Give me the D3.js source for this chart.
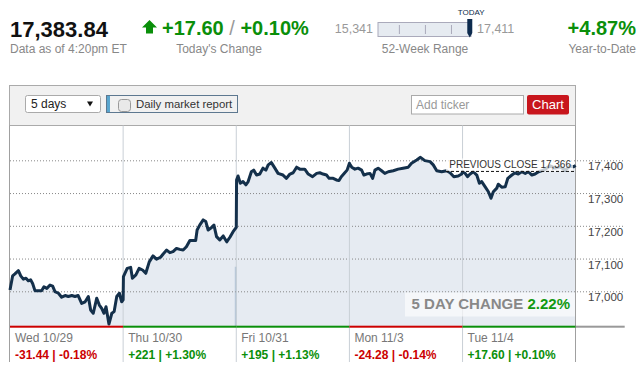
<!DOCTYPE html>
<html>
<head>
<meta charset="utf-8">
<script src="https://cdn.jsdelivr.net/npm/d3@7"></script>
<style>
  body { margin: 0; background: #fff; }
  svg text { font-family: "Liberation Sans", Arial, sans-serif; }
</style>
</head>
<body>
<svg id="chart" width="644" height="371"></svg>
<script>
// ---- header values ----
const lastValue = "17,383.84";
const asOf = "Data as of 4:20pm ET";
const todayChange = "+17.60";
const todayPct = "+0.10%";
const weekLow = 15341, weekHigh = 17411, lastPrice = 17383.84;
const ytdPct = "+4.87%";
const previousClose = 17366;
const fiveDayChange = "2.22%";

// ---- day columns ----
const dayLabels = ["Wed 10/29", "Thu 10/30", "Fri 10/31", "Mon 11/3", "Tue 11/4"];
const dayChanges = ["-31.44", "+221", "+195", "-24.28", "+17.60"];
const dayPcts = ["-0.18%", "+1.30%", "+1.13%", "-0.14%", "+0.10%"];
const yTicks = [17000, 17100, 17200, 17300, 17400];

// ---- intraday series: [minutes after 9:30, index level] ----
const wed = [[0,17004],[9,17047],[17,17053],[29,17063],[37,17047],[46,17037],[55,17040],[63,17032],
  [71,17035],[78,17024],[86,17002],[98,17002],[109,17002],[117,17014],[127,17009],[138,17019],
  [147,17016],[155,16999],[167,16994],[178,16982],[190,16987],[201,16984],[213,16987],[224,16984],
  [235,16987],[247,16963],[259,16968],[270,16984],[278,16943],[287,16933],[299,16979],[308,16958],
  [316,16948],[324,16933],[331,16953],[341,16900],[351,16933],[359,16938],[368,16984],[377,16994],
  [385,16968],[390,16974]];
const thu = [[1,17045],[14,17070],[26,17073],[32,17040],[44,17050],[55,17070],[67,17065],[78,17055],
  [90,17090],[103,17108],[115,17098],[129,17104],[138,17114],[150,17126],[161,17118],[172,17121],
  [184,17131],[195,17128],[207,17126],[218,17136],[230,17155],[241,17155],[250,17155],[255,17187],
  [264,17202],[276,17218],[285,17213],[293,17187],[305,17195],[313,17202],[322,17167],[333,17157],
  [345,17169],[357,17151],[368,17165],[379,17182],[390,17195]];
const fri = [[1,17340],[6,17352],[14,17330],[23,17335],[33,17325],[41,17335],[52,17365],[60,17370],
  [70,17355],[81,17358],[92,17376],[102,17370],[110,17386],[121,17393],[133,17376],[144,17360],
  [161,17355],[173,17345],[185,17358],[196,17362],[208,17379],[219,17373],[236,17373],[248,17358],
  [263,17350],[277,17360],[288,17362],[299,17358],[311,17355],[320,17345],[334,17345],[345,17340],
  [354,17338],[362,17350],[374,17362],[382,17370],[390,17391]];
const mon = [[0,17390],[8,17379],[19,17373],[30,17376],[42,17370],[50,17355],[59,17358],[71,17360],
  [80,17345],[88,17370],[99,17376],[111,17368],[122,17360],[134,17365],[151,17368],[168,17373],
  [185,17376],[203,17379],[214,17391],[232,17401],[245,17409],[260,17399],[278,17396],[289,17386],
  [301,17368],[318,17365],[335,17368],[347,17362],[360,17350],[375,17352],[387,17358],[390,17366]];
const tue = [[9,17360],[17,17350],[26,17358],[37,17365],[49,17355],[58,17330],[66,17335],[78,17319],
  [89,17304],[98,17284],[106,17304],[118,17315],[123,17327],[135,17318],[147,17319],[156,17345],
  [170,17355],[181,17362],[192,17358],[204,17365],[216,17360],[227,17365],[239,17355],[250,17358],
  [262,17365],[279,17370],[302,17383],[319,17376],[336,17380],[354,17370],[371,17383],[382,17380],
  [390,17384]];
const sessions = [wed, thu, fri, mon, tue];
const fridayOpenBar = 17075;

const series = sessions.flatMap((s, i) => s.map(([m, v]) => ({ t: i * 390 + m, v })));

const svg = d3.select("#chart");
const green = "#0a8f0a", red = "#cc0000", gray = "#888";

// ================= HEADER =================
svg.append("text").attr("x", 10).attr("y", 37).attr("font-size", 22).attr("font-weight", "bold")
  .attr("fill", "#111").text(lastValue);
svg.append("text").attr("x", 10).attr("y", 53).attr("font-size", 12).attr("fill", gray).text(asOf);

svg.append("path").attr("d", "M142,27.5 L149.5,20 L157,27.5 L153,27.5 L153,33.5 L146,33.5 L146,27.5 Z")
  .attr("fill", green);
const chg = svg.append("text").attr("x", 162).attr("y", 35).attr("font-size", 20).attr("font-weight", "bold");
chg.append("tspan").attr("fill", green).text(todayChange);
chg.append("tspan").attr("fill", "#999").attr("font-weight", "normal").text(" / ");
chg.append("tspan").attr("fill", green).text(todayPct);
svg.append("text").attr("x", 219).attr("y", 53).attr("font-size", 12).attr("fill", gray)
  .attr("text-anchor", "middle").text("Today's Change");

// 52-week range
const rx = d3.scaleLinear().domain([weekLow, weekHigh]).range([378, 471]);
svg.append("text").attr("x", 373).attr("y", 33).attr("font-size", 12.5).attr("fill", "#999")
  .attr("text-anchor", "end").text(d3.format(",")(weekLow));
svg.append("text").attr("x", 477).attr("y", 33).attr("font-size", 12.5).attr("fill", "#999")
  .text(d3.format(",")(weekHigh));
svg.append("rect").attr("x", rx(weekLow)).attr("y", 22.5).attr("width", rx(weekHigh) - rx(weekLow))
  .attr("height", 14).attr("fill", "#e6ebf1").attr("stroke", "#aab");
[0.23, 0.51, 0.79].forEach(f => {
  const tx = rx(weekLow + f * (weekHigh - weekLow));
  svg.append("line").attr("x1", tx).attr("x2", tx).attr("y1", 25).attr("y2", 34)
    .attr("stroke", "#aab");
});
const mx = rx(lastPrice);
svg.append("path").attr("d", `M${mx - 2.5},19 L${mx + 2.5},19 L${mx + 2.5},33 L${mx},37.5 L${mx - 2.5},33 Z`)
  .attr("fill", "#0d2b4e");
svg.append("text").attr("x", mx + 1.5).attr("y", 15).attr("font-size", 8).attr("fill", "#0d2b4e")
  .attr("text-anchor", "middle").text("TODAY");
svg.append("text").attr("x", 425).attr("y", 53).attr("font-size", 12).attr("fill", gray)
  .attr("text-anchor", "middle").text("52-Week Range");

svg.append("text").attr("x", 636).attr("y", 35).attr("font-size", 20).attr("font-weight", "bold")
  .attr("fill", green).attr("text-anchor", "end").text(ytdPct);
svg.append("text").attr("x", 636).attr("y", 53).attr("font-size", 12).attr("fill", gray)
  .attr("text-anchor", "end").text("Year-to-Date");

// ================= TOOLBAR =================
const box = { left: 9.5, right: 575.5, top: 85.5, bar: 125.5, plotBottom: 326.7, bottom: 362 };
svg.append("rect").attr("x", box.left).attr("y", box.top).attr("width", box.right - box.left)
  .attr("height", box.bar - box.top).attr("fill", "#f1f1f1").attr("stroke", "#aaa");

svg.append("rect").attr("x", 25.5).attr("y", 95.5).attr("width", 75).attr("height", 17).attr("rx", 2)
  .attr("fill", "#fff").attr("stroke", "#aaa");
svg.append("text").attr("x", 31).attr("y", 108).attr("font-size", 12).attr("fill", "#222").text("5 days");
svg.append("path").attr("d", "M87,101.5 L93,101.5 L90,106.5 Z").attr("fill", "#111");

svg.append("rect").attr("x", 106.5).attr("y", 95.5).attr("width", 131).attr("height", 17)
  .attr("fill", "#f1f1f1").attr("stroke", "#5d7890");
svg.append("rect").attr("x", 107).attr("y", 96).attr("width", 3).attr("height", 16).attr("fill", "#5aa6cf");
svg.append("rect").attr("x", 118.5).attr("y", 99.5).attr("width", 12).attr("height", 12).attr("rx", 3)
  .attr("fill", "#e9e9e9").attr("stroke", "#999");
svg.append("text").attr("x", 136).attr("y", 108).attr("font-size", 11.4).attr("fill", "#333")
  .text("Daily market report");

svg.append("rect").attr("x", 411.5).attr("y", 95.5).attr("width", 112).attr("height", 18.5)
  .attr("fill", "#fff").attr("stroke", "#aaa");
svg.append("text").attr("x", 416).attr("y", 109).attr("font-size", 12).attr("fill", "#999").text("Add ticker");
svg.append("rect").attr("x", 527).attr("y", 95).attr("width", 42).attr("height", 19.5).attr("rx", 2)
  .attr("fill", "#c8161d");
svg.append("text").attr("x", 548).attr("y", 109).attr("font-size", 13).attr("fill", "#fff")
  .attr("text-anchor", "middle").text("Chart");

// ================= PLOT =================
const x = d3.scaleLinear().domain([0, 5 * 390]).range([10, 575.7]);
const y = d3.scaleLinear().domain([17000, 17400]).range([291.3, 160.3]);

const area = d3.area().x(d => x(d.t)).y0(box.plotBottom).y1(d => y(d.v));
const line = d3.line().x(d => x(d.t)).y(d => y(d.v));

svg.append("path").datum(series).attr("d", area).attr("fill", "#e6ebf2");

// Friday opening bar
svg.append("rect").attr("x", x(2 * 390) - 1.5).attr("y", y(fridayOpenBar)).attr("width", 2)
  .attr("height", box.plotBottom - y(fridayOpenBar)).attr("fill", "#b4c6d8");

// gridlines + right axis labels
yTicks.forEach(v => {
  svg.append("line").attr("x1", 10).attr("x2", 625).attr("y1", y(v) + 0.5).attr("y2", y(v) + 0.5)
    .attr("stroke", "#888").attr("stroke-dasharray", "1,2");
  svg.append("text").attr("x", 588).attr("y", y(v) + 10).attr("font-size", 11.5).attr("fill", "#444")
    .text(d3.format(",")(v));
});

// day separators
d3.range(1, 5).forEach(i => {
  svg.append("line").attr("x1", x(i * 390)).attr("x2", x(i * 390)).attr("y1", box.bar)
    .attr("y2", box.bottom).attr("stroke", "#c9cfd6");
});
// box sides
[box.left, box.right].forEach(bx => {
  svg.append("line").attr("x1", bx).attr("x2", bx).attr("y1", box.bar).attr("y2", box.bottom)
    .attr("stroke", "#a0a0a0");
});

svg.append("path").datum(series).attr("d", line).attr("fill", "none").attr("stroke", "#14304b")
  .attr("stroke-width", 3).attr("stroke-linejoin", "round");

// previous close
const pcY = y(previousClose);
svg.append("rect").attr("x", 446).attr("y", pcY - 13).attr("width", 127).attr("height", 13)
  .attr("fill", "#fff").attr("fill-opacity", 0.75);
svg.append("line").attr("x1", 446).attr("x2", 576).attr("y1", pcY).attr("y2", pcY)
  .attr("stroke", "#111").attr("stroke-dasharray", "3,2");
svg.append("text").attr("x", 571).attr("y", pcY - 3.5).attr("font-size", 10).attr("fill", "#333")
  .attr("text-anchor", "end").text("PREVIOUS CLOSE " + d3.format(",")(previousClose));

// 5 day change
svg.append("rect").attr("x", 405).attr("y", 292.5).attr("width", 170).attr("height", 24)
  .attr("fill", "#fff").attr("fill-opacity", 0.6);
const fd = svg.append("text").attr("x", 570).attr("y", 309).attr("font-size", 15).attr("font-weight", "bold")
  .attr("text-anchor", "end");
fd.append("tspan").attr("fill", "#888").text("5 DAY CHANGE ");
fd.append("tspan").attr("fill", "#119911").text(fiveDayChange);

// bottom colored bar per day
dayChanges.forEach((c, i) => {
  svg.append("rect").attr("x", x(i * 390)).attr("y", box.plotBottom - 1).attr("width", x(390) - x(0))
    .attr("height", 2).attr("fill", c.startsWith("-") ? red : green);
});
svg.append("rect").attr("x", x(5 * 390)).attr("y", box.plotBottom - 1).attr("width", 49)
  .attr("height", 2).attr("fill", "#999");

// day labels
dayLabels.forEach((lab, i) => {
  const dx = x(i * 390) + 5;
  const col = dayChanges[i].startsWith("-") ? red : green;
  svg.append("text").attr("x", dx).attr("y", 342).attr("font-size", 12).attr("fill", "#777").text(lab);
  svg.append("text").attr("x", dx).attr("y", 359).attr("font-size", 12).attr("font-weight", "bold")
    .attr("fill", col).text(dayChanges[i] + " | " + dayPcts[i]);
});
</script>
</body>
</html>
